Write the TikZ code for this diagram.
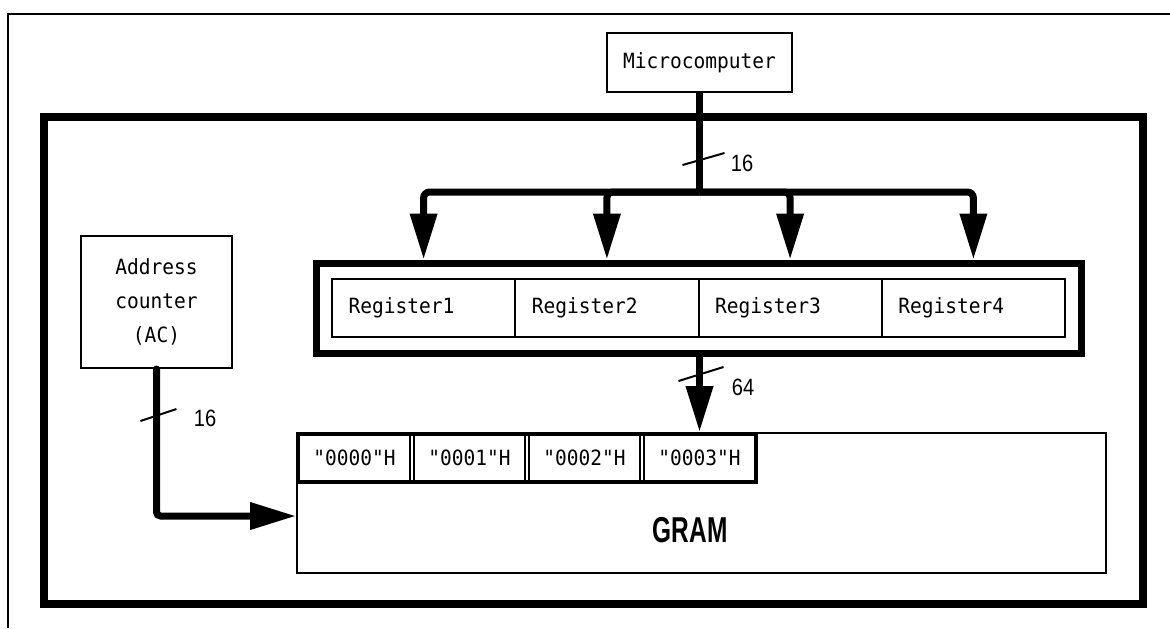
\documentclass[tikz,border=0pt]{standalone}
\usepackage{fontspec}
\usetikzlibrary{arrows.meta,positioning,fit}
\newfontfamily\regfont[FakeStretch=0.93,Ligatures=TeXOff]{DejaVu Sans Mono}
\newfontfamily\numfont[FakeStretch=0.85]{Liberation Sans}
\newfontfamily\gramfont[FakeStretch=0.68]{Liberation Sans}

\tikzset{
	box/.style={draw,line width=1pt,inner sep=0pt,font=\regfont\fontsize{10.5}{17}\selectfont},
	regcell/.style={box,minimum width=91.6pt,minimum height=29pt,text width=75pt,align=left},
	addrcell/.style={box,minimum width=55.5pt,minimum height=23pt},
	bus/.style={line width=3.5pt,-{Triangle[length=23pt,width=13pt]}},
	busmark/.style={line width=1pt},
	buswidth/.style={font=\numfont\fontsize{11.8}{12}\selectfont}
}

\begin{document}
\begin{tikzpicture}[x=0.5pt,y=-0.5pt]
	\useasboundingbox (0,0) rectangle (1170,628);
	\draw[line width=1pt] (8,628) |- (1170,14);
	\draw[line width=4pt] (44,117) rectangle (1143,604);

	\node[box,minimum width=92.5pt,minimum height=29.5pt] (micro) at (699.5,62.5) {Microcomputer};
	\node[box,minimum width=75.5pt,minimum height=66pt,align=center] (ac) at (156.5,302) {Address\\counter\\(AC)};

	\node[regcell] (r1) at (423.6,308) {Register1};
	\node[regcell] (r2) at (606.9,308) {Register2};
	\node[regcell] (r3) at (790.1,308) {Register3};
	\node[regcell] (r4) at (973.4,308) {Register4};
	\node[draw,line width=3.5pt,inner sep=7.5pt,fit=(r1)(r4)] (regs) {};

	\node[draw,line width=1pt,minimum width=404.5pt,minimum height=70pt] (gram) at (701.5,503) {};
	\node[font=\gramfont\bfseries\fontsize{18}{18}\selectfont] (gramtext) at (690,530) {GRAM};
	\node[addrcell] (a1) at (354.5,458) {"0000"H};
	\node[addrcell] (a2) at (469.5,458) {"0001"H};
	\node[addrcell] (a3) at (584.5,458) {"0002"H};
	\node[addrcell] (a4) at (699.5,458) {"0003"H};
	\node[draw,line width=2pt,inner sep=0pt,fit=(a1)(a4)] (arow) {};

	% data bus from the microcomputer
	\coordinate (hub) at (micro.south |- 0,192);
	\draw[line width=3.5pt] (micro.south) -- (hub);
	\draw[bus,rounded corners=3pt] (hub) -| (r1.north |- regs.north);
	\draw[bus,rounded corners=3pt] (hub) -| (r2.north |- regs.north);
	\draw[bus,rounded corners=3pt] (hub) -| (r3.north |- regs.north);
	\draw[bus,rounded corners=3pt] (hub) -| (r4.north |- regs.north);
	\coordinate (m16) at (micro.south |- 0,159);
	\draw[busmark] (m16) ++(-17,6) -- ++(42,-12);
	\node[buswidth] (w16) at (742,163) {16};

	% registers to GRAM
	\draw[bus] (regs.south -| a4.north) -- (a4.north |- arow.north);
	\coordinate (m64) at (a4.north |- 0,374);
	\draw[busmark] (m64) ++(-21,7) -- ++(45,-14);
	\node[buswidth] (w64) at (743,387) {64};

	% address counter to GRAM
	\draw[bus,rounded corners=2pt,line cap=round] (ac.south) |- ([yshift=-6.5pt]gram.west);
	\coordinate (mac) at (ac.south |- 0,415);
	\draw[busmark] (mac) ++(-16,6) -- ++(36,-12);
	\node[buswidth] (wac) at (205,418) {16};
\end{tikzpicture}
\end{document}
